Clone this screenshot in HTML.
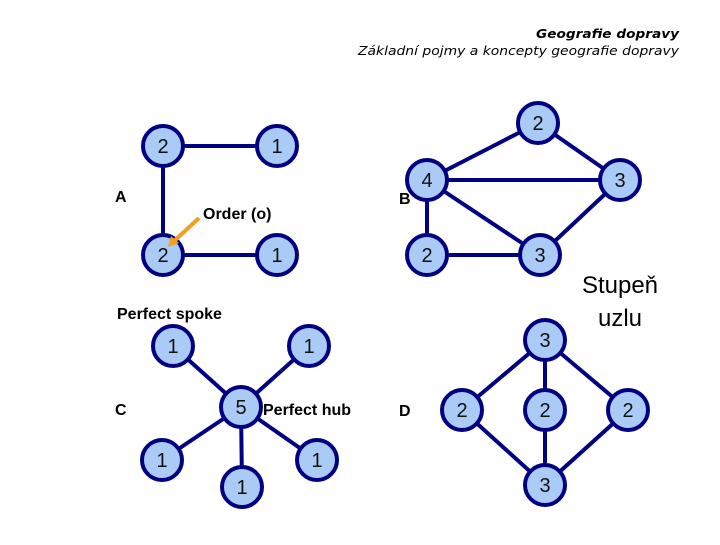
<!DOCTYPE html>
<html><head><meta charset="utf-8"><style>
html,body{margin:0;padding:0;background:#fff;}
</style></head><body>
<svg width="720" height="540" viewBox="0 0 720 540" xmlns="http://www.w3.org/2000/svg">
<g font-family="DejaVu Sans, sans-serif" font-style="italic" font-size="12" fill="#000" text-anchor="end">
<text x="679" y="38" font-weight="bold" textLength="143" lengthAdjust="spacingAndGlyphs">Geografie dopravy</text>
<text x="679" y="55" textLength="321" lengthAdjust="spacingAndGlyphs">Základní pojmy a koncepty geografie dopravy</text>
</g>
<g stroke="#000080" stroke-width="4" fill="none">
<!-- A -->
<line x1="163" y1="146" x2="277" y2="146"/>
<line x1="163" y1="146" x2="163" y2="255"/>
<line x1="163" y1="255" x2="277" y2="255"/>
<!-- B -->
<line x1="538" y1="123" x2="427" y2="180"/>
<line x1="538" y1="123" x2="620" y2="180"/>
<line x1="427" y1="180" x2="620" y2="180"/>
<line x1="427" y1="180" x2="427" y2="255"/>
<line x1="427" y1="180" x2="540" y2="255"/>
<line x1="620" y1="180" x2="540" y2="255"/>
<line x1="427" y1="255" x2="540" y2="255"/>
<!-- C -->
<line x1="241" y1="407" x2="173" y2="346"/>
<line x1="241" y1="407" x2="309" y2="346"/>
<line x1="241" y1="407" x2="162" y2="460"/>
<line x1="241" y1="407" x2="242" y2="487"/>
<line x1="241" y1="407" x2="317" y2="460"/>
<!-- D -->
<line x1="545" y1="340" x2="462" y2="410"/>
<line x1="545" y1="340" x2="545" y2="410"/>
<line x1="545" y1="340" x2="628" y2="410"/>
<line x1="545" y1="485" x2="462" y2="410"/>
<line x1="545" y1="485" x2="545" y2="410"/>
<line x1="545" y1="485" x2="628" y2="410"/>
</g>
<g stroke="#000080" stroke-width="4" fill="#a9cbf5">
<circle cx="163" cy="146" r="20"/><circle cx="277" cy="146" r="20"/>
<circle cx="163" cy="255" r="20"/><circle cx="277" cy="255" r="20"/>
<circle cx="538" cy="123" r="20"/><circle cx="427" cy="180" r="20"/>
<circle cx="620" cy="180" r="20"/><circle cx="427" cy="255" r="20"/>
<circle cx="540" cy="255" r="20"/>
<circle cx="173" cy="346" r="20"/><circle cx="309" cy="346" r="20"/>
<circle cx="241" cy="407" r="20"/><circle cx="162" cy="460" r="20"/>
<circle cx="242" cy="487" r="20"/><circle cx="317" cy="460" r="20"/>
<circle cx="545" cy="340" r="20"/><circle cx="462" cy="410" r="20"/>
<circle cx="545" cy="410" r="20"/><circle cx="628" cy="410" r="20"/>
<circle cx="545" cy="485" r="20"/>
</g>
<g font-family="Liberation Sans, sans-serif" font-size="20" fill="#111" text-anchor="middle">
<text x="163" y="153">2</text><text x="277" y="153">1</text>
<text x="163" y="262">2</text><text x="277" y="262">1</text>
<text x="538" y="130">2</text><text x="427" y="187">4</text>
<text x="620" y="187">3</text><text x="427" y="262">2</text>
<text x="540" y="262">3</text>
<text x="173" y="353">1</text><text x="309" y="353">1</text>
<text x="241" y="414">5</text><text x="162" y="467">1</text>
<text x="242" y="494">1</text><text x="317" y="467">1</text>
<text x="545" y="347">3</text><text x="462" y="417">2</text>
<text x="545" y="417">2</text><text x="628" y="417">2</text>
<text x="545" y="492">3</text>
</g>
<g font-family="Liberation Sans, sans-serif" font-weight="bold" font-size="16" fill="#000">
<text x="115" y="202">A</text>
<text x="399" y="204">B</text>
<text x="115" y="415">C</text>
<text x="399" y="416">D</text>
<text x="203" y="219">Order (o)</text>
<text x="117" y="319">Perfect spoke</text>
<text x="263" y="415">Perfect hub</text>
</g>
<line x1="199" y1="218" x2="172" y2="243" stroke="#f0a020" stroke-width="4"/>
<polygon points="168,247 171,236 179,243" fill="#f0a020"/>
<g font-family="Liberation Sans, sans-serif" font-size="24" fill="#000" text-anchor="middle">
<text x="620" y="293">Stupeň</text>
<text x="620" y="326">uzlu</text>
</g>
</svg>
</body></html>
